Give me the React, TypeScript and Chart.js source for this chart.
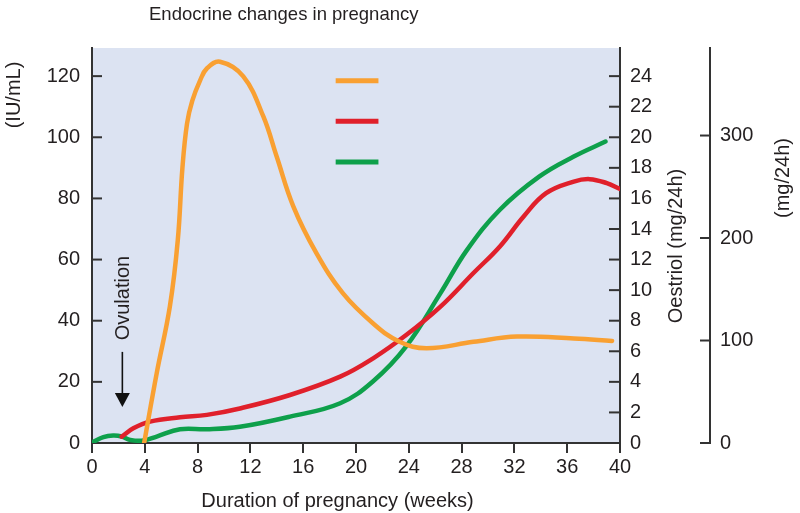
import React, { useEffect, useRef } from "react";
import { Chart, registerables } from "chart.js";

Chart.register(...registerables);

// ---- data ----
const hcgWeeks = [3.95, 4.9, 5.9, 6.5, 6.85, 7.2, 7.6, 8.2, 8.7, 9.7, 11.46, 12.98, 13.99, 15.25, 17.0, 19.0, 21.3, 23.3, 25.35, 28.9, 32.2, 36.5, 39.4];
const hcgValues = [0, 22.8, 44.7, 66.4, 90, 104.5, 112, 118.7, 122.5, 124.7, 119.9, 106.8, 93.7, 77.4, 62.1, 49.0, 39.1, 33.1, 31.0, 33.1, 34.8, 34.2, 33.4];

const oestriolWeeks = [2.25, 3.13, 4.4, 6.67, 8.7, 11.2, 15.0, 18.8, 21.3, 23.8, 26.4, 28.9, 30.9, 32.7, 34.4, 36.5, 37.7, 39.0, 40.0];
const oestriolValues = [0.42, 0.96, 1.4, 1.68, 1.84, 2.26, 3.14, 4.34, 5.54, 7.06, 8.92, 11.12, 12.86, 14.82, 16.34, 17.1, 17.26, 17.0, 16.62];

const mgWeeks = [0.1, 0.86, 1.6, 2.25, 2.9, 3.9, 4.9, 6.67, 8.7, 11.2, 15.0, 18.8, 21.3, 23.8, 26.4, 28.4, 30.9, 33.9, 36.5, 38.9];
const mgValues = [1.2, 5.7, 7.2, 6.3, 3.0, 2.4, 6.3, 13.4, 13.4, 15.8, 25.7, 38.8, 60.3, 94.3, 146.2, 188.2, 227.6, 260.1, 279.5, 294.1];

const chartTitle = "Endocrine changes in pregnancy";
const xTitle = "Duration of pregnancy (weeks)";
const leftTitle = "(IU/mL)";
const oestriolTitle = "Oestriol (mg/24h)";
const mgTitle = "(mg/24h)";
const ovulationLabel = "Ovulation";
const ovulationWeek = 2.3;

// ---- styles ----
const FONT = "'Liberation Sans', Arial, sans-serif";
const TEXT = "#231f20";
const AXIS = "#333333";
const BG = "#dce3f2";
const ORANGE = "#f9a032";
const RED = "#e0202b";
const GREEN = "#0ea04b";

const toPoints = (xs: number[], ys: number[]) => xs.map((x, i) => ({ x, y: ys[i] }));

const decor = {
  id: "decor",
  beforeDraw(chart: any) {
    const { ctx, chartArea: a } = chart;
    ctx.save();
    ctx.fillStyle = BG;
    ctx.fillRect(a.left, a.top, a.right - a.left, a.bottom - a.top);
    ctx.restore();
  },
  beforeDatasetsDraw(chart: any) {
    const ctx = chart.ctx;
    const { y, y1, y2 } = chart.scales;
    ctx.save();
    ctx.strokeStyle = AXIS;
    ctx.lineWidth = 2;
    const seg = (x0: number, yy: number, x1: number) => {
      ctx.beginPath();
      ctx.moveTo(x0, yy);
      ctx.lineTo(x1, yy);
      ctx.stroke();
    };
    y.ticks.forEach((t: any) => {
      if (t.value === 0) return;
      const p = y.getPixelForValue(t.value);
      seg(y.right, p, y.right + 10);
    });
    y1.ticks.forEach((t: any) => {
      if (t.value === 0) return;
      const p = y1.getPixelForValue(t.value);
      seg(y1.left - 11, p, y1.left);
    });
    y2.ticks.forEach((t: any) => {
      const p = y2.getPixelForValue(t.value);
      seg(y2.left - 10, p, y2.left);
    });
    ctx.restore();
  },
  afterDatasetsDraw(chart: any) {
    const ctx = chart.ctx;
    const { x, y } = chart.scales;
    ctx.save();
    // Ovulation label + arrow
    const ax = x.getPixelForValue(ovulationWeek);
    ctx.fillStyle = TEXT;
    ctx.font = `20px ${FONT}`;
    ctx.save();
    ctx.translate(ax, y.getPixelForValue(47.4));
    ctx.rotate(-Math.PI / 2);
    ctx.textAlign = "center";
    ctx.textBaseline = "middle";
    ctx.fillText(ovulationLabel, 0, 1);
    ctx.restore();
    const lineTop = y.getPixelForValue(29.8);
    const tip = y.getPixelForValue(11.8);
    ctx.strokeStyle = "#111";
    ctx.lineWidth = 1.6;
    ctx.beginPath();
    ctx.moveTo(ax, lineTop);
    ctx.lineTo(ax, tip - 12);
    ctx.stroke();
    ctx.fillStyle = "#111";
    ctx.beginPath();
    ctx.moveTo(ax - 7.5, tip - 14);
    ctx.lineTo(ax + 7.5, tip - 14);
    ctx.lineTo(ax, tip);
    ctx.closePath();
    ctx.fill();
    // legend markers
    const legend: [string, number][] = [[ORANGE, 118.5], [RED, 105.2], [GREEN, 91.9]];
    ctx.lineWidth = 5;
    ctx.lineCap = "butt";
    legend.forEach(([c, v]) => {
      const py = y.getPixelForValue(v);
      ctx.strokeStyle = c;
      ctx.beginPath();
      ctx.moveTo(x.getPixelForValue(18.46), py);
      ctx.lineTo(x.getPixelForValue(21.7), py);
      ctx.stroke();
    });
    ctx.restore();
  },
  afterDraw(chart: any) {
    const ctx = chart.ctx;
    ctx.save();
    ctx.fillStyle = TEXT;
    ctx.font = `18.5px ${FONT}`;
    ctx.textAlign = "left";
    ctx.textBaseline = "alphabetic";
    ctx.fillText(chartTitle, 149, 20);
    ctx.font = `20px ${FONT}`;
    ctx.textAlign = "center";
    ctx.fillText(xTitle, 337.5, 507);
    const vtext = (s: string, cx: number, cy: number) => {
      ctx.save();
      ctx.translate(cx, cy);
      ctx.rotate(-Math.PI / 2);
      ctx.textAlign = "center";
      ctx.textBaseline = "middle";
      ctx.fillText(s, 0, 0);
      ctx.restore();
    };
    vtext(leftTitle, 14, 95);
    vtext(oestriolTitle, 676, 246);
    vtext(mgTitle, 783, 178);
    ctx.restore();
  },
};

const keepSteps = (step: number) => (scale: any) => {
  scale.ticks = scale.ticks.filter((t: any) => Math.abs(t.value / step - Math.round(t.value / step)) < 1e-6);
};

export default function App() {
  const ref = useRef<HTMLCanvasElement | null>(null);
  useEffect(() => {
    if (!ref.current) return;
    const tickFont = { family: FONT, size: 20 };
    const lineStyle = {
      borderWidth: 4.5,
      pointRadius: 0,
      tension: 0.4,
      borderCapStyle: "round",
      borderJoinStyle: "round",
    };
    const chart = new Chart(ref.current, {
      type: "line",
      data: {
        datasets: [
          { label: "hCG", data: toPoints(hcgWeeks, hcgValues), borderColor: ORANGE, yAxisID: "y", ...lineStyle },
          { label: "Oestriol", data: toPoints(oestriolWeeks, oestriolValues), borderColor: RED, yAxisID: "y1", ...lineStyle },
          { label: "mg/24h", data: toPoints(mgWeeks, mgValues), borderColor: GREEN, yAxisID: "y2", ...lineStyle },
        ],
      },
      options: {
        animation: false,
        responsive: false,
        devicePixelRatio: 1,
        layout: { padding: { top: 48, left: 0, right: 0, bottom: 0 } },
        plugins: { legend: { display: false }, tooltip: { enabled: false }, title: { display: false } },
        events: [],
        scales: {
          x: {
            type: "linear",
            min: 0,
            max: 40,
            grid: { display: true, drawOnChartArea: false, drawTicks: true, tickLength: 10, color: AXIS, lineWidth: 2 },
            border: { display: true, color: AXIS, width: 2 },
            ticks: { stepSize: 4, color: TEXT, font: tickFont, padding: 2, maxRotation: 0, autoSkip: false },
            afterFit: (s: any) => { s.height = 70; },
          },
          y: {
            type: "linear",
            position: "left",
            min: 0,
            max: 129.2,
            grid: { display: false, drawTicks: false },
            border: { display: true, color: AXIS, width: 2 },
            ticks: { stepSize: 20, color: TEXT, font: tickFont, padding: 12 },
            afterBuildTicks: keepSteps(20),
            afterFit: (s: any) => { s.width = 92; },
          },
          y1: {
            type: "linear",
            position: "right",
            weight: 0,
            min: 0,
            max: 25.84,
            grid: { display: false, drawTicks: false },
            border: { display: true, color: AXIS, width: 2 },
            ticks: { stepSize: 2, color: TEXT, font: tickFont, padding: 10 },
            afterBuildTicks: keepSteps(2),
            afterFit: (s: any) => { s.width = 90; },
          },
          y2: {
            type: "linear",
            position: "right",
            weight: 1,
            min: 0,
            max: 385.4,
            grid: { display: false, drawTicks: false },
            border: { display: true, color: AXIS, width: 2 },
            ticks: { stepSize: 100, color: TEXT, font: tickFont, padding: 10 },
            afterBuildTicks: keepSteps(100),
            afterFit: (s: any) => { s.width = 90; },
          },
        },
      } as any,
      plugins: [decor],
    });
    return () => chart.destroy();
  }, []);
  return (
    <div style={{ position: "fixed", left: 0, top: 0, width: 800, height: 513, background: "#fff" }}>
      <canvas ref={ref} width={800} height={513} style={{ display: "block", width: 800, height: 513 }} />
    </div>
  );
}
